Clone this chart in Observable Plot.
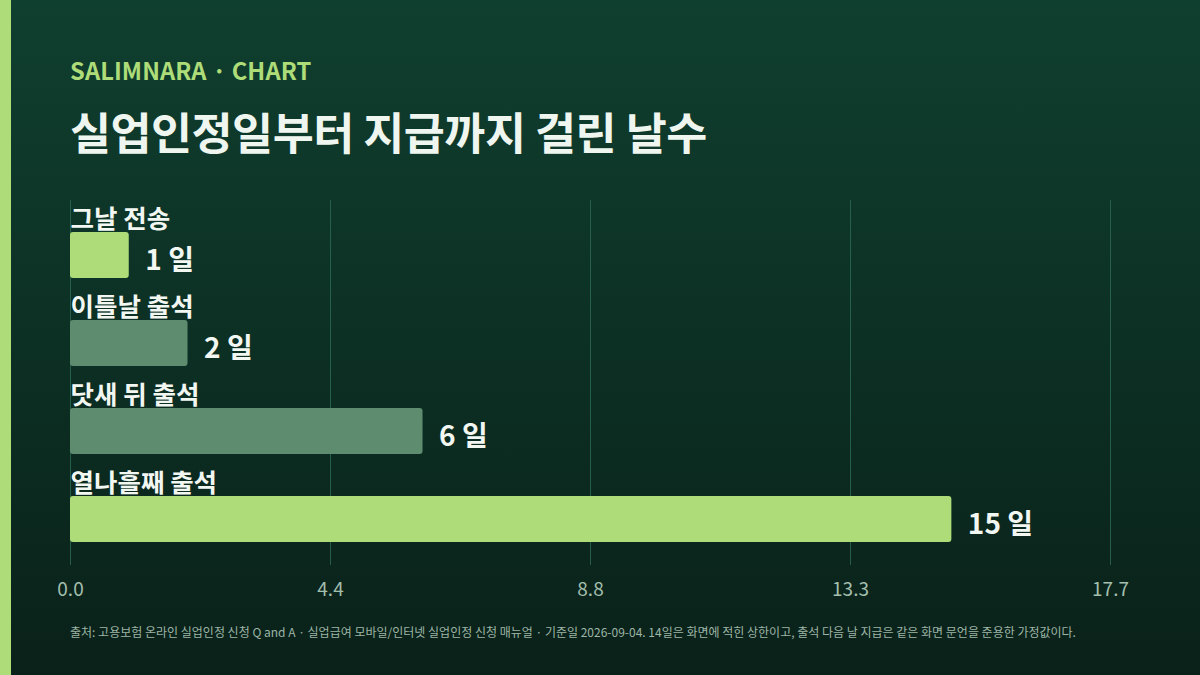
<!DOCTYPE html>
<html>
<head>
<meta charset="utf-8">
<script src="https://cdn.jsdelivr.net/npm/d3@7"></script>
<script src="https://cdn.jsdelivr.net/npm/@observablehq/plot@0.6"></script>
<style>
  html, body { margin: 0; padding: 0; }
  body {
    width: 1200px; height: 675px; overflow: hidden; position: relative;
    background: linear-gradient(180deg, #0f3f2f 0%, #0a2119 100%);
    font-family: "Noto Sans CJK KR", "Noto Sans", sans-serif;
  }
  #stripe { position: absolute; left: 0; top: 0; width: 11px; height: 675px; background: #addc78; }
  #kicker { position: absolute; left: 70px; top: 53px; font-size: 23.7px; font-weight: 700; color: #addc78; letter-spacing: 0.1px; }
  #title { position: absolute; left: 70px; top: 98px; font-size: 44.6px; font-weight: 700; color: #eef6ef; letter-spacing: -0.5px; }
  #chart { position: absolute; left: 0; top: 190px; }
  #footer { position: absolute; left: 70px; top: 623px; font-size: 12px; color: #9db5a6; }
</style>
</head>
<body>
<div id="stripe"></div>
<div id="kicker">SALIMNARA · CHART</div>
<div id="title">실업인정일부터 지급까지 걸린 날수</div>
<div id="chart"></div>
<div id="footer">출처: 고용보험 온라인 실업인정 신청 Q and A · 실업급여 모바일/인터넷 실업인정 신청 매뉴얼 · 기준일 2026-09-04. 14일은 화면에 적힌 상한이고, 출석 다음 날 지급은 같은 화면 문언을 준용한 가정값이다.</div>
<script>
const categories = ["그날 전송", "이틀날 출석", "닷새 뒤 출석", "열나흘째 출석"];
const days = [1, 2, 6, 15];
const highlight = [true, false, false, true];
const xMax = 17.7;
const tickValues = [0, 4.425, 8.85, 13.275, 17.7];
const tickLabels = ["0.0", "4.4", "8.8", "13.3", "17.7"];

const data = categories.map((c, i) => ({cat: c, v: days[i], hi: highlight[i], label: `${days[i]} 일`}));

const chart = Plot.plot({
  width: 1200,
  height: 420,
  marginLeft: 70,
  marginRight: 90,
  marginTop: 10,
  marginBottom: 45,
  style: {background: "transparent", fontFamily: "'Noto Sans CJK KR', 'Noto Sans', sans-serif", overflow: "visible", fontSize: "19px"},
  x: {domain: [0, xMax], label: null},
  y: {domain: categories, range: [10, 362], padding: 0, axis: null},
  marks: [
    Plot.gridX(tickValues, {stroke: "#2c6b52", strokeOpacity: 0.8, strokeWidth: 1}),
    Plot.axisX(tickValues, {
      tickSize: 0, tickPadding: 17, fontSize: 19, fill: "#a3bfae", label: null,
      tickFormat: (d, i) => tickLabels[i]
    }),
    Plot.barX(data, {
      x: "v", y: "cat", insetTop: 32, insetBottom: 10, rx: 3,
      fill: d => d.hi ? "#addc78" : "#5e8c6f"
    }),
    Plot.text(data, {
      x: 0, y: "cat", text: "cat", textAnchor: "start", lineAnchor: "bottom",
      dy: -17, fontSize: 25.5, fontWeight: 700, fill: "#f2f7f2"
    }),
    Plot.text(data, {
      x: "v", y: "cat", text: "label", textAnchor: "start", lineAnchor: "middle",
      dx: 16, dy: 17, fontSize: 28, fontWeight: 700, fill: "#f2f7f2"
    })
  ]
});
document.getElementById("chart").appendChild(chart);
</script>
</body>
</html>
